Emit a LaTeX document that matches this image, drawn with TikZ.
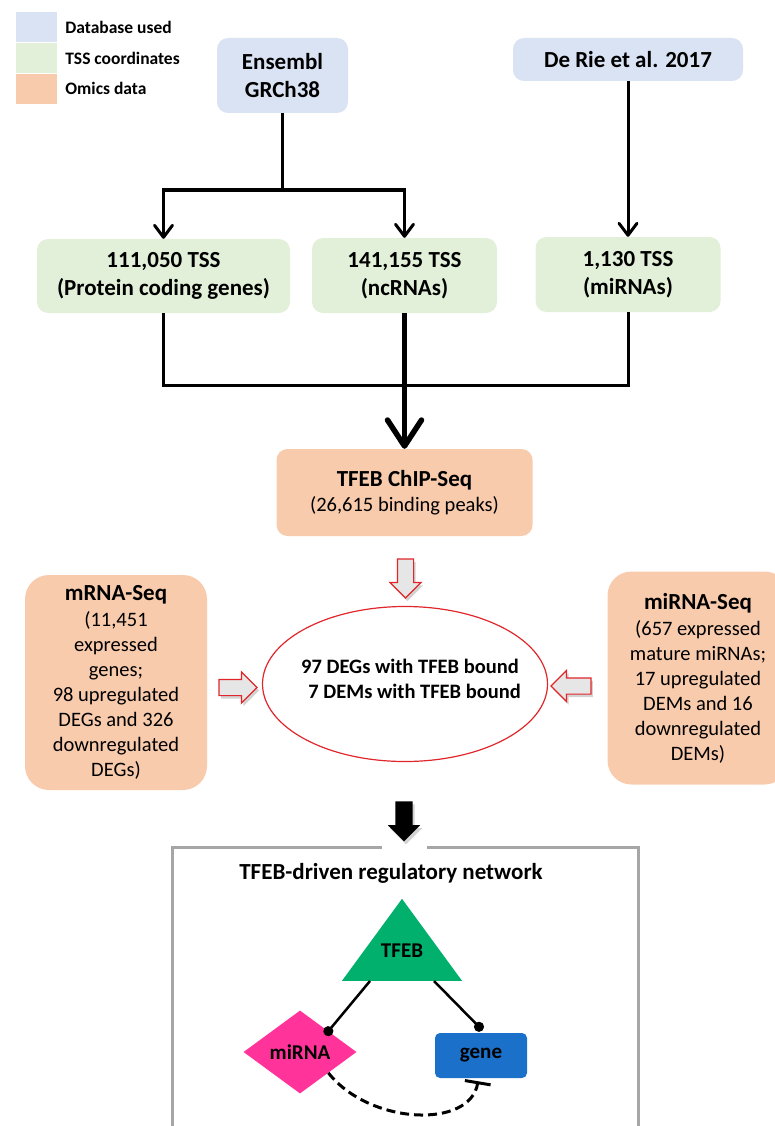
\documentclass[tikz,border=0pt]{standalone}
\usepackage{fontspec}
\setmainfont{Carlito}
\usetikzlibrary{arrows.meta,shapes.geometric,shapes.arrows,shadows,calc,positioning}

\definecolor{dbblue}{HTML}{DAE3F3}
\definecolor{tssgreen}{HTML}{E2F0D9}
\definecolor{omics}{HTML}{F8CBAD}
\definecolor{arrowred}{HTML}{E0262A}
\definecolor{hollowgray}{HTML}{E6E6E6}
\definecolor{framegray}{HTML}{A6A6A6}
\definecolor{tfebgreen}{HTML}{00B06C}
\definecolor{mirnapink}{HTML}{FF3399}
\definecolor{geneblue}{HTML}{1B70C9}

\begin{document}
\begin{tikzpicture}[x=1pt, y=-1pt,
    box/.style={rounded corners=11pt, align=center, inner sep=0pt, font=\bfseries\fontsize{23}{28}\selectfont},
    dbbox/.style={box, fill=dbblue},
    tssbox/.style={box, fill=tssgreen},
    omicsbox/.style={box, fill=omics, font=\fontsize{20.5}{25}\selectfont},
    legkey/.style={minimum width=41pt, minimum height=30.4pt, inner sep=0pt},
    legtext/.style={anchor=west, inner sep=0pt, font=\bfseries\fontsize{17.5}{21}\selectfont},
    link/.style={line width=3pt},
    flow/.style={line width=3pt, -{Straight Barb[length=12pt, width=18pt, round]}},
    bigflow/.style={line width=5.5pt, -{Straight Barb[length=26pt, width=34pt, round]}},
    hollowarrow/.style={single arrow, draw=arrowred, fill=hollowgray, line width=1.2pt,
      single arrow head extend=7.5pt, inner sep=7.5pt,
      drop shadow={opacity=0.35, shadow xshift=2pt, shadow yshift=-3pt}},
    blockarrow/.style={single arrow, fill=black, single arrow head extend=7.5pt, inner sep=8.5pt,
      drop shadow={opacity=0.35, shadow xshift=2pt, shadow yshift=-3pt}},
    netframe/.style={draw=framegray, line width=3pt},
    nettext/.style={font=\bfseries\fontsize{21}{25}\selectfont},
    bind/.style={line width=2.5pt, shorten >=-5pt, -{Circle[length=10pt]}},
    repress/.style={line width=3pt, dash pattern=on 9pt off 5pt, -{Bar[width=26pt, line width=3pt]}}]
  \useasboundingbox (0,0) rectangle (775,1126);

  % legend
  \node[legkey, fill=dbblue] (keydb) at (36.5,27.2) {};
  \node[legkey, fill=tssgreen, below=0pt of keydb] (keytss) {};
  \node[legkey, fill=omics, below=0pt of keytss] (keyomics) {};
  \node[legtext, right=8pt of keydb] (legdb) {Database used};
  \node[legtext, right=8pt of keytss] (legtss) {TSS coordinates};
  \node[legtext, right=8pt of keyomics] (legomics) {Omics data};

  % databases and TSS sets
  \node[dbbox, minimum width=131pt, minimum height=75pt] (ensembl) at (282.5,75.5) {Ensembl\\GRCh38};
  \node[dbbox, minimum width=230pt, minimum height=43pt] (derie) at (628,59.5) {De Rie et al. 2017};
  \node[tssbox, minimum width=253pt, minimum height=74pt] (tss1) at (163.5,276) {111,050 TSS\\(Protein coding genes)};
  \node[tssbox, minimum width=185pt, minimum height=75pt] (tss2) at (404.5,275.5) {141,155 TSS\\(ncRNAs)};
  \node[tssbox, minimum width=185pt, minimum height=75pt] (tss3) at (628,274.5) {1,130 TSS\\(miRNAs)};

  \coordinate (split) at (282.5,190);
  \coordinate (merge) at (404.5,385);
  \draw[link] (ensembl) -- (split);
  \draw[flow] (split) -| (tss1);
  \draw[flow] (split) -| (tss2);
  \draw[flow] (derie) -- (tss3);
  \draw[link] (tss1) |- (merge -| tss3) -- (tss3);

  % ChIP-Seq
  \node[omicsbox, minimum width=256pt, minimum height=87pt] (chip) at (404.5,492.5)
    {\textbf{\fontsize{23}{25}\selectfont TFEB ChIP-Seq}\\(26,615 binding peaks)};
  \draw[bigflow] (tss2) -- (chip);

  % integration
  \node[hollowarrow, shape border rotate=270, minimum height=39pt] (chipin) at (405.5,574.5) {};
  \node[draw=arrowred, line width=1.2pt, ellipse, minimum width=285pt, minimum height=155pt] (core) at (405,684) {};
  \node[align=center, font=\bfseries\fontsize{20.5}{25}\selectfont] (coretext) at (410,679)
    {97 DEGs with TFEB bound\\\ \ 7 DEMs with TFEB bound};
  \node[omicsbox, rounded corners=24pt, minimum width=182pt, minimum height=215pt] (mrna) at (116,682.5)
    {\textbf{\fontsize{23}{25}\selectfont mRNA-Seq}\\[1pt](11,451\\expressed\\genes;\\98 upregulated\\DEGs and 326\\downregulated\\DEGs)};
  \node[omicsbox, rounded corners=24pt, minimum width=181pt, minimum height=213pt] (mirnaseq) at (698,678)
    {\textbf{\fontsize{23}{25}\selectfont miRNA-Seq}\\[1pt](657 expressed\\mature miRNAs;\\17 upregulated\\DEMs and 16\\downregulated\\DEMs)};
  \node[hollowarrow, shape border rotate=0, minimum height=38pt] (mrnain) at (234,687.5) {};
  \node[hollowarrow, shape border rotate=180, minimum height=40pt] (mirnain) at (575,686) {};

  % network
  \node[blockarrow, shape border rotate=270, minimum height=40pt] (tonet) at (404,817) {};
  \draw[netframe] (382,847) -- (172,847) -- (172,1140);
  \draw[netframe] (427,847) -- (638,847) -- (638,1140);
  \node[font=\bfseries\fontsize{23}{25}\selectfont] (nettitle) at (391,873) {TFEB-driven regulatory network};

  \node[isosceles triangle, isosceles triangle stretches, shape border rotate=90, inner sep=0pt,
    minimum width=120pt, minimum height=82pt, fill=tfebgreen, anchor=south] (tfeb) at (402,981) {};
  \node[nettext] (tfeblabel) at (402,951) {TFEB};
  \node[diamond, fill=mirnapink, inner sep=0pt, minimum width=113pt, minimum height=83pt, nettext] (mirna) at (300,1052) {miRNA};
  \node[rectangle, fill=geneblue, rounded corners=5pt, minimum width=92pt, minimum height=45pt, nettext] (gene) at (481,1055.5) {gene};

  \draw[bind] ($(tfeb.south)+(-32,0)$) -- (mirna.north east);
  \draw[bind] ($(tfeb.south)+(32,0)$) -- ($(gene.north)+(-2,-6)$);
  \draw[repress] (mirna.south east) .. controls +(41,52) and +(-8,48) .. ($(gene.south)+(-3,3)$);
\end{tikzpicture}
\end{document}
